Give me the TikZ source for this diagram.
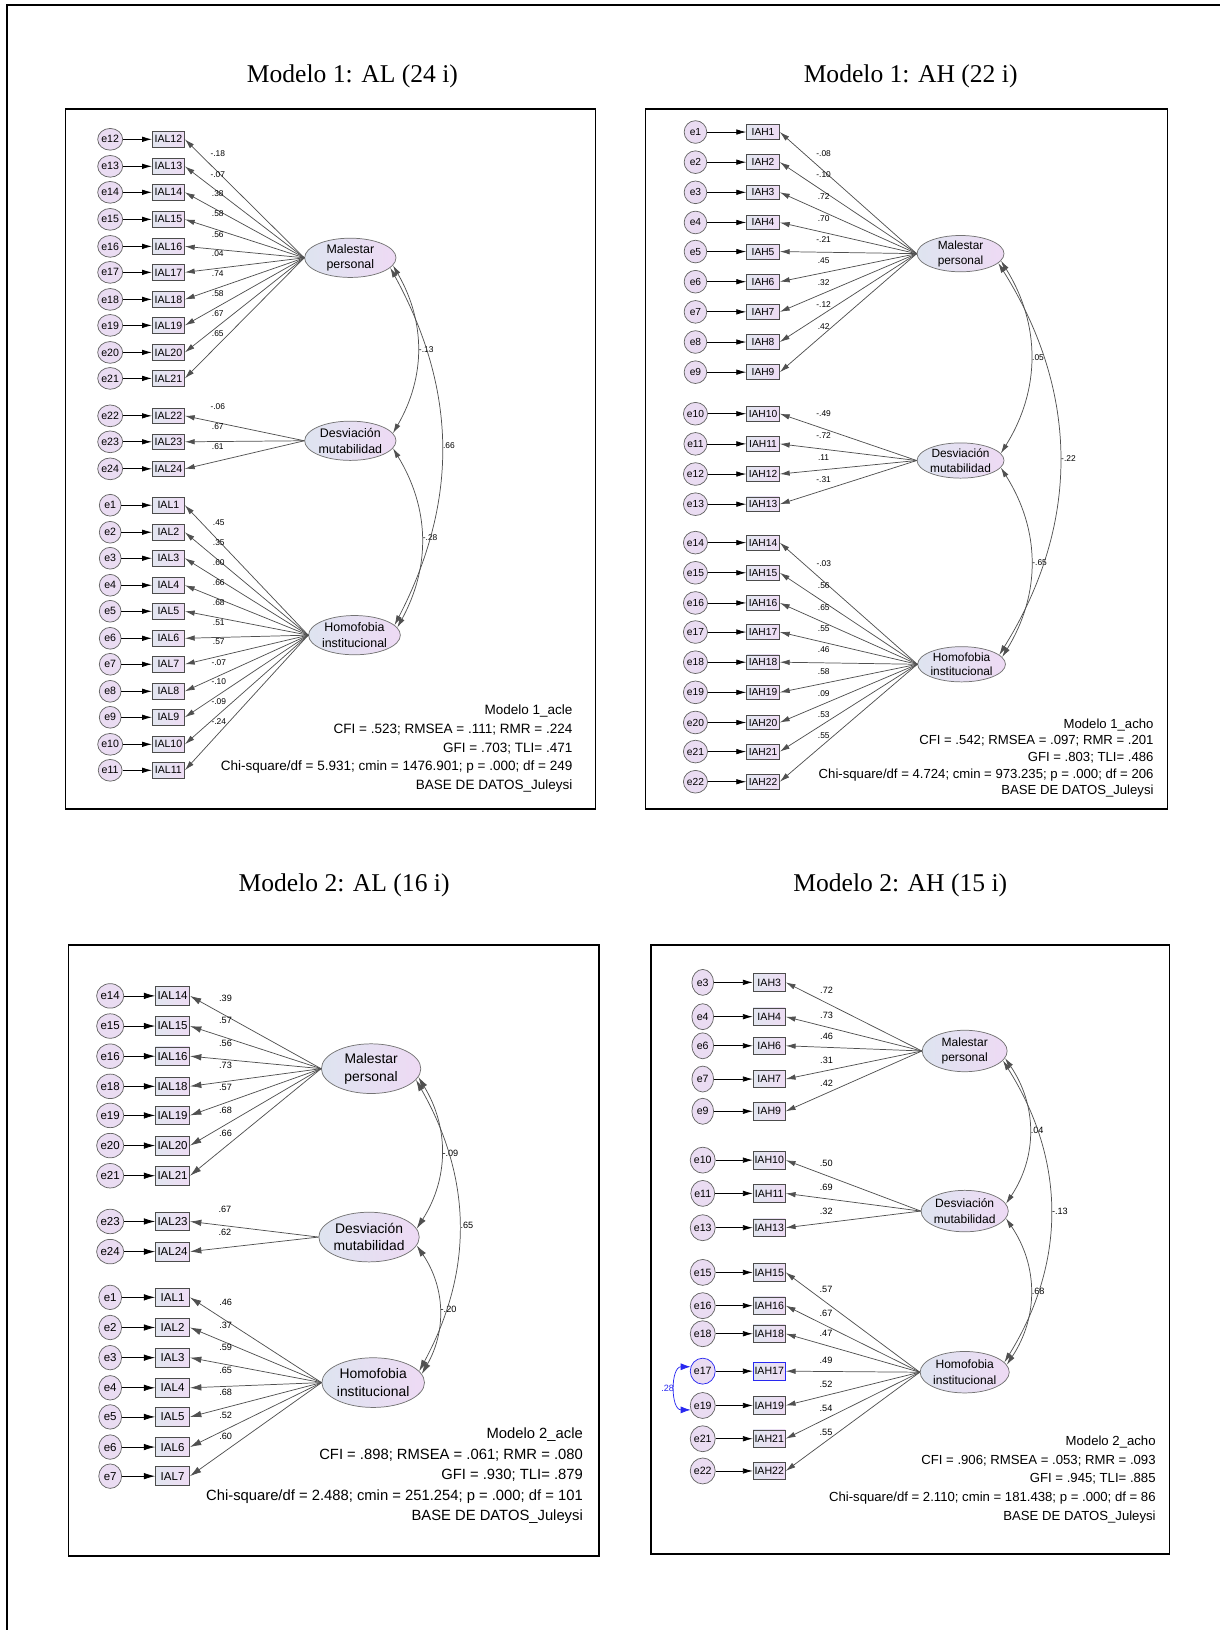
\documentclass[tikz,border=0pt]{standalone}
\usepackage{fontspec}
\setmainfont{Liberation Serif}
\setsansfont{Liberation Sans}
\usepackage{tikz}
\usetikzlibrary{arrows.meta,shapes.geometric}
\definecolor{errfill}{RGB}{234,220,242}
\definecolor{boxleft}{RGB}{226,230,240}
\definecolor{boxright}{RGB}{238,220,244}
\definecolor{latleft}{RGB}{222,228,240}
\definecolor{latright}{RGB}{238,218,244}
\definecolor{linegray}{RGB}{80,80,80}
\definecolor{amosblue}{RGB}{40,40,240}
\newcommand{\amosfont}[2]{\sffamily\fontsize{#1}{#2}\selectfont}
\tikzset{
  errc/.style={ellipse,draw=black!60,fill=errfill,inner sep=0pt},
  obs/.style={rectangle,draw=black!70,left color=boxleft,right color=boxright,inner sep=0pt},
  latent/.style={ellipse,draw=black!55,left color=latleft,right color=latright,inner sep=0pt,align=center},
  errarr/.style={draw=black,-{Latex[length=5.4pt,width=3pt]}},
  load/.style={draw=linegray,-{Latex[length=5.4pt,width=3pt]}},
  cov/.style={draw=linegray,{Latex[length=5.4pt,width=3pt]}-{Latex[length=5.4pt,width=3pt]}},
  coefl/.style={anchor=center,inner sep=0.4pt},
  coefc/.style={pos=0.5,anchor=west,inner sep=0.6pt},
  fitstats/.style={align=right,anchor=north east,inner sep=0pt},
  titletxt/.style={font=\fontsize{14}{16}\selectfont},
  panelbox/.style={draw=black,line width=0.9pt},
  nohl/.style={},
  hlblue/.style={draw=amosblue},
}
\begin{document}
\begin{tikzpicture}[x=0.02cm,y=-0.02cm]
  \useasboundingbox (0,0) rectangle (1174,1568);
  \draw[line width=1.2pt] (7,1568) -- (7,5) -- (1174,5);
  % Modelo 1, AL
  \begin{scope}[errc/.append style={minimum width=11.9pt,minimum height=11.9pt,font=\amosfont{5.8}{6}},
      obs/.append style={minimum width=17.6pt,minimum height=8.5pt,font=\amosfont{5.8}{6}},
      latent/.append style={minimum width=50pt,minimum height=21.5pt,font=\amosfont{6.8}{8.6}},
      coefl/.append style={pos=0.75,xshift=1.7pt,yshift=8.2pt,font=\amosfont{4.6}{5}},
      coefc/.append style={font=\amosfont{4.6}{5}},
      fitstats/.append style={font=\amosfont{7.4}{10.2}}]
    \draw[panelbox] (63,105) rectangle (573,778);
    \node[titletxt] (Atitle) at (339,73) {Modelo 1: AL (24 i)};
    \node[latent] (Amp) at (337,248) {Malestar\\personal};
    \node[latent] (Adm) at (337,424) {Desviación\\mutabilidad};
    \node[latent] (Ahi) at (341,611) {Homofobia\\institucional};
    \foreach \i/\y/\v/\f in {12/134/-.18/mp,13/160/-.07/mp,14/185/.38/mp,15/211/.58/mp,16/237/.56/mp,
        17/262/.04/mp,18/288/.74/mp,19/313/.58/mp,20/339/.67/mp,21/364/.65/mp,
        22/400/-.06/dm,23/425/.67/dm,24/451/.61/dm,
        1/486/.45/hi,2/512/.35/hi,3/537/.60/hi,4/563/.66/hi,5/588/.68/hi,6/614/.51/hi,
        7/639/.57/hi,8/665/-.07/hi,9/690/-.10/hi,10/716/-.09/hi,11/741/-.24/hi}{
      \node[errc] (Ae\i) at (106,\y) {e\i};
      \node[obs] (Ai\i) at (162,\y) {IAL\i};
      \draw[errarr] (Ae\i) -- (Ai\i);
      \draw[load] (A\f.west) -- node[coefl] {\v} (Ai\i.east);
    }
    \draw[cov] (Amp.-10) to[bend left=30] node[coefc] {-.13} (Adm.10);
    \draw[cov] (Adm.-10) to[bend left=30] node[coefc] {-.28} (Ahi.10);
    \draw[cov] (Amp.-14) to[bend left=28] node[coefc] {.66} (Ahi.14);
    \node[fitstats] (Afit) at (551,678) {Modelo 1\_acle\\CFI = .523; RMSEA = .111; RMR = .224\\GFI = .703; TLI= .471\\Chi-square/df = 5.931; cmin = 1476.901; p = .000; df = 249\\BASE DE DATOS\_Juleysi};
  \end{scope}
  % Modelo 1, AH
  \begin{scope}[errc/.append style={minimum width=12.4pt,minimum height=12.4pt,font=\amosfont{5.6}{6}},
      obs/.append style={minimum width=18pt,minimum height=8pt,font=\amosfont{5.6}{6}},
      latent/.append style={minimum width=47.6pt,minimum height=19.3pt,font=\amosfont{6.5}{8}},
      coefl/.append style={pos=0.72,xshift=3pt,yshift=7pt,font=\amosfont{4.6}{5}},
      coefc/.append style={font=\amosfont{4.6}{5}},
      fitstats/.append style={font=\amosfont{7.2}{9.1}}]
    \draw[panelbox] (621,105) rectangle (1123,778);
    \node[titletxt] (Btitle) at (876,73) {Modelo 1: AH (22 i)};
    \node[latent] (Bmp) at (924,244) {Malestar\\personal};
    \node[latent] (Bdm) at (924,443) {Desviación\\mutabilidad};
    \node[latent] (Bhi) at (925,639) {Homofobia\\institucional};
    \foreach \i/\y/\v/\f in {1/127/-.08/mp,2/156/-.10/mp,3/185/.72/mp,4/214/.70/mp,5/242/-.21/mp,
        6/271/.45/mp,7/300/.32/mp,8/329/-.12/mp,9/358/.42/mp,
        10/398/-.49/dm,11/427/-.72/dm,12/456/.11/dm,13/485/-.31/dm,
        14/522/-.03/hi,15/551/.56/hi,16/580/.65/hi,17/608/.55/hi,18/637/.46/hi,
        19/666/.58/hi,20/695/.09/hi,21/723/.53/hi,22/752/.55/hi}{
      \node[errc] (Be\i) at (669,\y) {e\i};
      \node[obs] (Bi\i) at (734,\y) {IAH\i};
      \draw[errarr] (Be\i) -- (Bi\i);
      \draw[load] (B\f.west) -- node[coefl] {\v} (Bi\i.east);
    }
    \draw[cov] (Bmp.-10) to[bend left=32] node[coefc] {.05} (Bdm.10);
    \draw[cov] (Bdm.-10) to[bend left=32] node[coefc] {-.65} (Bhi.10);
    \draw[cov] (Bmp.-14) to[bend left=32] node[coefc] {-.22} (Bhi.14);
    \node[fitstats] (Bfit) at (1110,691) {Modelo 1\_acho\\CFI = .542; RMSEA = .097; RMR = .201\\GFI = .803; TLI= .486\\Chi-square/df = 4.724; cmin = 973.235; p = .000; df = 206\\BASE DE DATOS\_Juleysi};
  \end{scope}
  % Modelo 2, AL
  \begin{scope}[errc/.append style={minimum width=12.5pt,minimum height=13.4pt,font=\amosfont{6.3}{7}},
      obs/.append style={minimum width=18.7pt,minimum height=10.2pt,font=\amosfont{6.3}{7}},
      latent/.append style={minimum width=54.4pt,minimum height=27.2pt,font=\amosfont{7.6}{9.6}},
      coefl/.append style={pos=0.75,xshift=1.5pt,yshift=8.8pt,font=\amosfont{5}{6}},
      coefc/.append style={font=\amosfont{5}{6}},
      errarr/.append style={-{Latex[length=6.2pt,width=3.6pt]}},
      load/.append style={-{Latex[length=6.2pt,width=3.6pt]}},
      cov/.append style={{Latex[length=6.2pt,width=3.6pt]}-{Latex[length=6.2pt,width=3.6pt]}},
      fitstats/.append style={font=\amosfont{8.1}{11.3}}]
    \draw[panelbox] (66,909) rectangle (576,1497);
    \node[titletxt] (Ctitle) at (331,852) {Modelo 2: AL (16 i)};
    \node[latent] (Cmp) at (357,1028) {Malestar\\personal};
    \node[latent] (Cdm) at (355,1190) {Desviación\\mutabilidad};
    \node[latent] (Chi) at (359,1330) {Homofobia\\institucional};
    \foreach \i/\y/\v/\f in {14/958/.39/mp,15/987/.57/mp,16/1016/.56/mp,18/1045/.73/mp,
        19/1073/.57/mp,20/1102/.68/mp,21/1131/.66/mp,
        23/1175/.67/dm,24/1204/.62/dm,
        1/1248/.46/hi,2/1277/.37/hi,3/1306/.59/hi,4/1335/.65/hi,5/1363/.68/hi,
        6/1392/.52/hi,7/1420/.60/hi}{
      \node[errc] (Ce\i) at (106,\y) {e\i};
      \node[obs] (Ci\i) at (166,\y) {IAL\i};
      \draw[errarr] (Ce\i) -- (Ci\i);
      \draw[load] (C\f.west) -- node[coefl] {\v} (Ci\i.east);
    }
    \draw[cov] (Cmp.-10) to[bend left=32] node[coefc] {-.09} (Cdm.10);
    \draw[cov] (Cdm.-10) to[bend left=32] node[coefc] {-.20} (Chi.10);
    \draw[cov] (Cmp.-14) to[bend left=29] node[coefc] {.65} (Chi.14);
    \node[fitstats] (Cfit) at (561,1373) {Modelo 2\_acle\\CFI = .898; RMSEA = .061; RMR = .080\\GFI = .930; TLI= .879\\Chi-square/df = 2.488; cmin = 251.254; p = .000; df = 101\\BASE DE DATOS\_Juleysi};
  \end{scope}
  % Modelo 2, AH
  \begin{scope}[errc/.append style={minimum width=11.9pt,minimum height=14.2pt,font=\amosfont{5.8}{6}},
      obs/.append style={minimum width=17.6pt,minimum height=9.6pt,font=\amosfont{5.8}{6}},
      latent/.append style={minimum width=46.5pt,minimum height=22.7pt,font=\amosfont{6.6}{8.4}},
      coefl/.append style={pos=0.72,xshift=1.5pt,yshift=6.2pt,font=\amosfont{5}{6}},
      coefc/.append style={font=\amosfont{5}{6}},
      fitstats/.append style={font=\amosfont{7.2}{10.2}}]
    \draw[panelbox] (626,909) rectangle (1125,1495);
    \node[titletxt] (Dtitle) at (866,852) {Modelo 2: AH (15 i)};
    \node[latent] (Dmp) at (928,1011) {Malestar\\personal};
    \node[latent] (Ddm) at (928,1165) {Desviación\\mutabilidad};
    \node[latent] (Dhi) at (928,1320) {Homofobia\\institucional};
    \foreach \i/\y/\v/\f/\s in {3/945/.72/mp/nohl,4/978/.73/mp/nohl,6/1006/.46/mp/nohl,7/1038/.31/mp/nohl,
        9/1069/.42/mp/nohl,
        10/1116/.50/dm/nohl,11/1148/.69/dm/nohl,13/1181/.32/dm/nohl,
        15/1224/.57/hi/nohl,16/1256/.67/hi/nohl,18/1283/.47/hi/nohl,17/1319/.49/hi/hlblue,
        19/1352/.52/hi/nohl,21/1384/.54/hi/nohl,22/1415/.55/hi/nohl}{
      \node[errc,\s] (De\i) at (676,\y) {e\i};
      \node[obs,\s] (Di\i) at (740,\y) {IAH\i};
      \draw[errarr] (De\i) -- (Di\i);
      \draw[load] (D\f.west) -- node[coefl] {\v} (Di\i.east);
    }
    \draw[cov] (Dmp.-10) to[bend left=34] node[coefc] {.04} (Ddm.10);
    \draw[cov] (Ddm.-10) to[bend left=34] node[coefc] {.68} (Dhi.10);
    \draw[cov] (Dmp.-14) to[bend left=32] node[coefc] {-.13} (Dhi.14);
    \draw[cov,draw=amosblue,{Latex[length=5.4pt,width=3.8pt]}-{Latex[length=5.4pt,width=3.8pt]}] (De17.160)
      to[out=180,in=180,looseness=1.2] node[pos=0.5,left,inner sep=0.6pt,text=amosblue,font=\amosfont{5}{6}] {.28} (De19.200);
    \node[fitstats] (Dfit) at (1112,1381) {Modelo 2\_acho\\CFI = .906; RMSEA = .053; RMR = .093\\GFI = .945; TLI= .885\\Chi-square/df = 2.110; cmin = 181.438; p = .000; df = 86\\BASE DE DATOS\_Juleysi};
  \end{scope}
\end{tikzpicture}
\end{document}
